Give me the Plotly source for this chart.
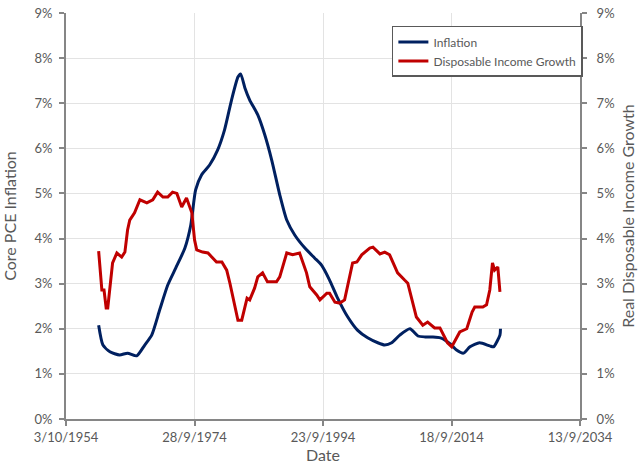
import plotly.graph_objects as go

infl_dates = ["1959-11","1960-07","1961-08","1963-02","1964-05","1965-10","1967-01","1968-02","1969-05","1970-08",
              "1971-11","1973-04","1974-03","1974-12","1975-11","1977-02","1978-05","1979-06","1980-07","1981-07",
              "1981-12","1982-08","1983-05","1984-08","1985-09","1986-10","1988-01","1989-02","1990-05","1991-12",
              "1993-06","1994-07","1995-10","1997-01","1998-08","2000-02","2001-09","2003-04","2004-05","2005-06",
              "2006-09","2008-04","2009-07","2010-08","2011-11","2013-01","2014-08","2015-07","2016-08","2017-08",
              "2019-02","2020-09","2021-04","2022-04","2022-05"]
infl_vals = [2.08,1.64,1.49,1.42,1.46,1.40,1.64,1.86,2.42,2.97,
             3.35,3.79,4.30,5.08,5.41,5.63,5.96,6.41,7.07,7.58,
             7.65,7.34,7.07,6.74,6.30,5.74,4.97,4.41,4.08,3.79,
             3.57,3.41,3.08,2.68,2.26,1.97,1.80,1.69,1.64,1.69,
             1.86,2.00,1.84,1.82,1.82,1.80,1.66,1.53,1.46,1.60,
             1.69,1.62,1.60,1.86,2.00]

inc_dates = ["1959-11","1960-05","1960-09","1961-01","1961-04","1962-01","1962-09","1963-06","1963-12","1964-05",
             "1964-09","1965-06","1966-04","1967-05","1968-04","1969-01","1969-11","1970-08","1971-05","1972-01",
             "1972-10","1973-07","1974-05","1974-10","1975-02","1976-01","1976-11","1978-03","1979-01","1979-10",
             "1980-04","1981-01","1981-07","1982-02","1982-12","1983-05","1984-02","1984-08","1985-05","1986-02",
             "1987-07","1988-01","1989-02","1990-01","1991-02","1992-03","1992-09","1993-10","1994-04","1995-05",
             "1995-10","1996-08","1997-05","1998-02","1999-05","2000-01","2000-10","2002-01","2002-07","2003-08",
             "2004-05","2005-02","2006-05","2007-06","2007-12","2009-04","2010-04","2011-01","2012-02","2012-12",
             "2013-09","2014-02","2014-10","2015-07","2016-01","2017-02","2017-12","2018-05","2019-08","2020-03",
             "2020-09","2021-02","2021-06","2021-12","2022-04"]
inc_vals = [3.72,2.86,2.86,2.46,2.46,3.46,3.68,3.59,3.70,4.19,
            4.41,4.57,4.86,4.79,4.86,5.03,4.92,4.92,5.03,5.00,
            4.70,4.90,4.57,3.97,3.75,3.70,3.68,3.48,3.48,3.30,
            3.01,2.48,2.19,2.19,2.68,2.64,2.90,3.15,3.24,3.04,
            3.04,3.15,3.68,3.64,3.68,3.24,2.93,2.75,2.64,2.79,
            2.79,2.59,2.57,2.64,3.46,3.48,3.64,3.79,3.81,3.66,
            3.70,3.64,3.24,3.08,3.01,2.26,2.08,2.15,2.02,2.02,
            1.82,1.69,1.60,1.80,1.93,2.00,2.37,2.48,2.48,2.53,
            2.86,3.46,3.30,3.37,2.82]

x_tickvals = ["1954-10-03","1974-09-28","1994-09-23","2014-09-18","2034-09-13"]
x_ticktext = ["3/10/1954","28/9/1974","23/9/1994","18/9/2014","13/9/2034"]
y_ticks = [0,1,2,3,4,5,6,7,8,9]
y_ticktext = ["0%","1%","2%","3%","4%","5%","6%","7%","8%","9%"]

font_c = "#595959"
axis_c = "#868686"
grid_c = "#e3e3e3"

fig = go.Figure()
fig.add_trace(go.Scatter(x=infl_dates, y=infl_vals, mode="lines", name="Inflation",
                         line=dict(color="#002060", width=3, shape="spline", smoothing=0.6)))
fig.add_trace(go.Scatter(x=inc_dates, y=inc_vals, mode="lines", name="Disposable Income Growth", yaxis="y2",
                         line=dict(color="#C00000", width=3)))

fig.update_layout(
    width=640, height=465,
    margin=dict(l=66, r=60, t=13, b=46, autoexpand=False),
    paper_bgcolor="white", plot_bgcolor="white",
    font=dict(family="Lato", size=13, color=font_c),
    showlegend=True,
    legend=dict(x=0.634, y=0.968, xanchor="left", yanchor="top",
                bgcolor="white", bordercolor="#595959", borderwidth=1.5,
                font=dict(size=12, color=font_c), tracegroupgap=0, itemwidth=30),
    xaxis=dict(type="date", range=[x_tickvals[0], x_tickvals[-1]], automargin=False,
               tickmode="array", tickvals=x_tickvals, ticktext=x_ticktext,
               showgrid=True, gridcolor=grid_c, gridwidth=1,
               showline=True, linecolor=axis_c, linewidth=2,
               ticks="outside", tickcolor=axis_c, ticklen=5, tickwidth=2,
               title=dict(text="Date", standoff=4), zeroline=False),
    yaxis=dict(range=[0, 9], tickmode="array", tickvals=y_ticks, ticktext=y_ticktext, automargin=False,
               showgrid=True, gridcolor=grid_c, gridwidth=1, ticklabeloverflow="allow",
               showline=True, linecolor=axis_c, linewidth=2,
               ticks="outside", tickcolor=axis_c, ticklen=5, tickwidth=2, ticklabelstandoff=4,
               title=dict(text="Core PCE Inflation", standoff=14), zeroline=False),
    yaxis2=dict(range=[0, 9], tickmode="array", tickvals=y_ticks, ticktext=y_ticktext, automargin=False,
                overlaying="y", side="right", showgrid=False, ticklabeloverflow="allow",
                showline=True, linecolor=axis_c, linewidth=2,
                ticks="outside", tickcolor=axis_c, ticklen=5, tickwidth=2, ticklabelstandoff=7,
                title=dict(text="Real Disposable Income Growth", standoff=9), zeroline=False),
)

fig.write_html("out.html", config={"displayModeBar": False},
               post_script="document.body.style.margin='0';")
